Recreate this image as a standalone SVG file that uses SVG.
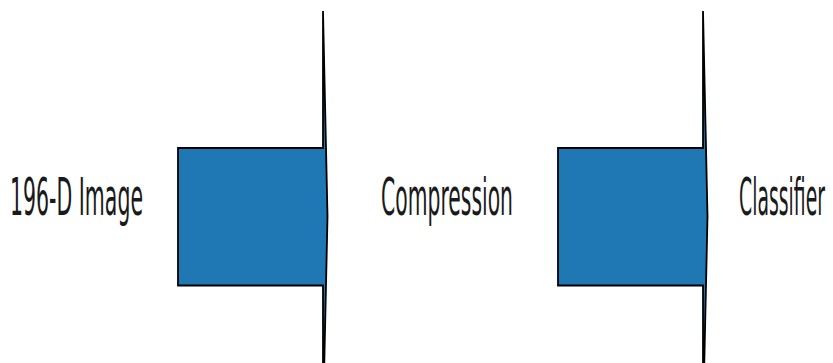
<svg xmlns="http://www.w3.org/2000/svg" width="833" height="363" viewBox="0 0 833 363">
<style>
.lbl{font-family:"DejaVu Sans",sans-serif;font-size:51px;fill:#1a1a1a}
.arrow{fill:#1f77b4;stroke:#000;stroke-width:1.8;stroke-linejoin:miter}
</style>
<rect width="833" height="363" fill="#fff"/>
<g id="node-image"><text class="lbl" transform="translate(10,215) scale(0.4,1)" x="0" y="0" textLength="332.5" lengthAdjust="spacingAndGlyphs">196-D Image</text></g>
<g id="node-compression"><text class="lbl" transform="translate(381,215) scale(0.4,1)" x="0" y="0" textLength="330" lengthAdjust="spacingAndGlyphs">Compression</text></g>
<g id="node-classifier"><text class="lbl" transform="translate(739,215) scale(0.4,1)" x="0" y="0" textLength="215" lengthAdjust="spacingAndGlyphs">Classifier</text></g>
<g id="connectors">
<path class="arrow" d="M178,148 H323 V11 L327.5,216.5 L323,422 V285.5 H178 Z"/>
<path class="arrow" d="M558,148 H703 V11 L707.5,216.5 L703,422 V285.5 H558 Z"/>
</g>
</svg>
